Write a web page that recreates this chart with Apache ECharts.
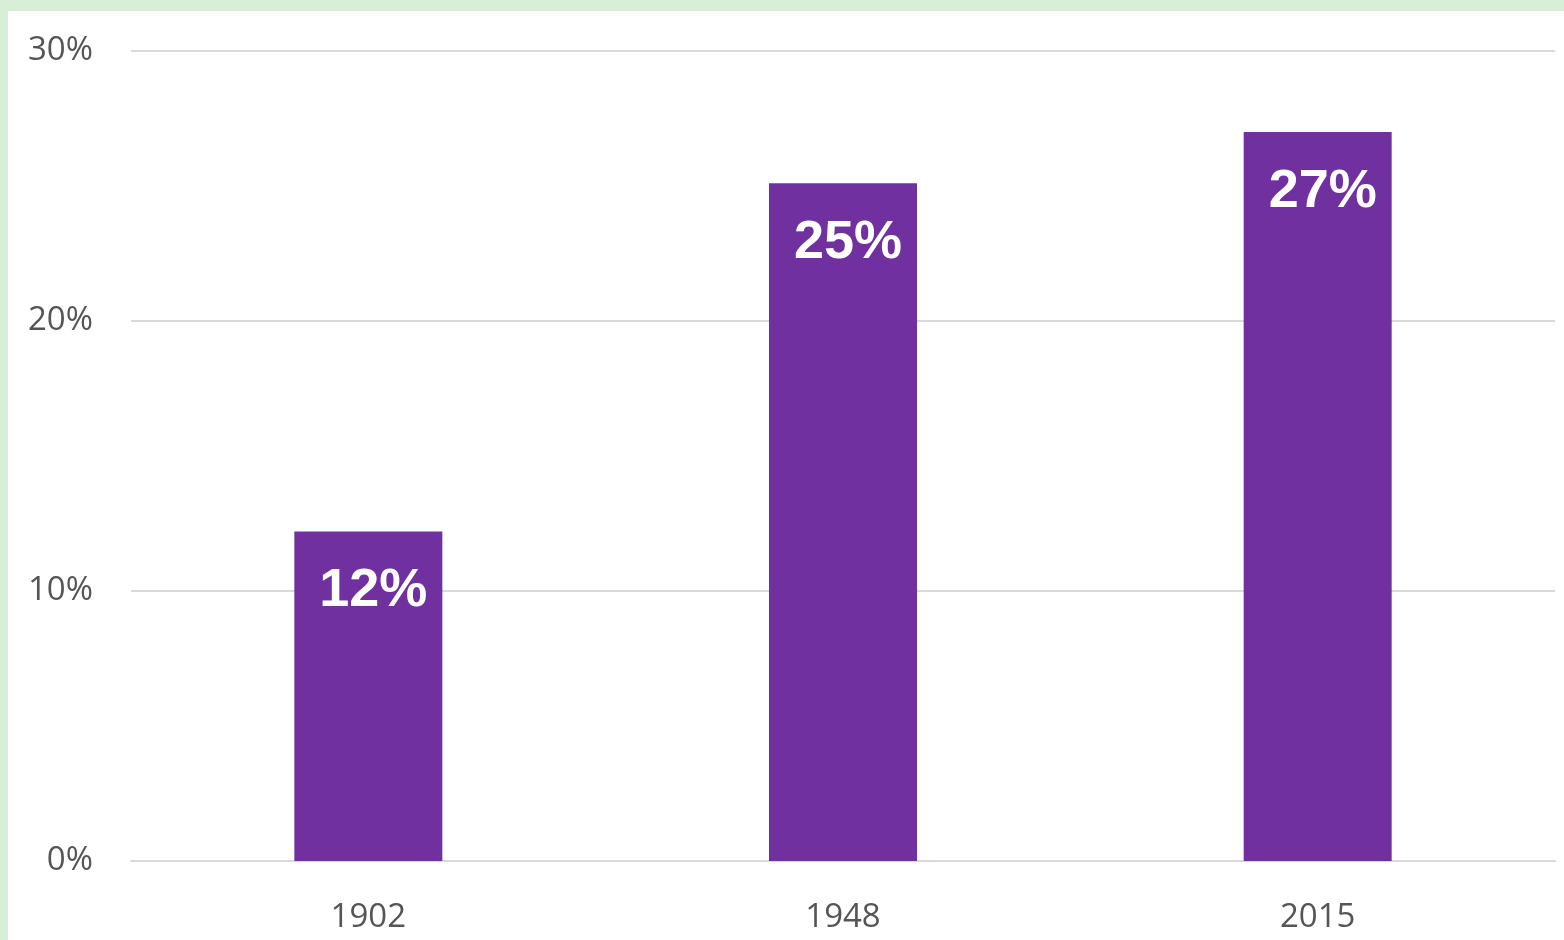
<!DOCTYPE html>
<html>
  <head>
    <meta charset="utf-8" />
    <title>Share by year</title>
    <script src="https://cdn.jsdelivr.net/npm/echarts@6/dist/echarts.min.js"></script>
    <style>
      body {
        margin: 0;
        padding: 0;
        background: #d9eed6;
        width: 1564px;
        height: 940px;
        overflow: hidden;
        position: relative;
      }
      #main {
        position: absolute;
        left: 8px;
        top: 11px;
        width: 1556px;
        height: 929px;
        background: #ffffff;
      }
    </style>
  </head>
  <body>
    <div id="main"></div>
    <script type="text/javascript">
      var years = ["1902", "1948", "2015"];
      var shares = [12.2, 25.1, 27.0];
      var yMin = 0;
      var yMax = 30;
      var yStep = 10;

      var myChart = echarts.init(document.getElementById("main"));

      var option = {
        animation: false,
        grid: {
          left: 123,
          top: 40,
          right: 9,
          bottom: 79,
        },
        xAxis: {
          type: "category",
          data: years,
          axisLine: { show: true, lineStyle: { color: "#d9d9d9", width: 2 } },
          axisTick: { show: false },
          axisLabel: {
            color: "#555555",
            fontFamily: "Open Sans",
            fontSize: 33,
            margin: 40,
          },
        },
        yAxis: {
          type: "value",
          min: yMin,
          max: yMax,
          interval: yStep,
          axisLine: { show: false },
          axisTick: { show: false },
          axisLabel: {
            color: "#555555",
            fontFamily: "Open Sans",
            fontSize: 33,
            margin: 38,
            padding: [6, 0, 0, 0],
            formatter: "{value}%",
          },
          splitLine: { lineStyle: { color: "#d9d9d9", width: 2 } },
        },
        series: [
          {
            type: "bar",
            data: shares,
            barWidth: 148,
            itemStyle: { color: "#7030a0" },
            label: {
              show: true,
              position: "insideTop",
              distance: 33,
              offset: [5, 0],
              color: "#ffffff",
              fontFamily: "Liberation Sans",
              fontWeight: "bold",
              fontSize: 54,
              formatter: function (p) {
                return Math.round(p.value) + "%";
              },
            },
          },
        ],
      };

      myChart.setOption(option);
    </script>
  </body>
</html>
